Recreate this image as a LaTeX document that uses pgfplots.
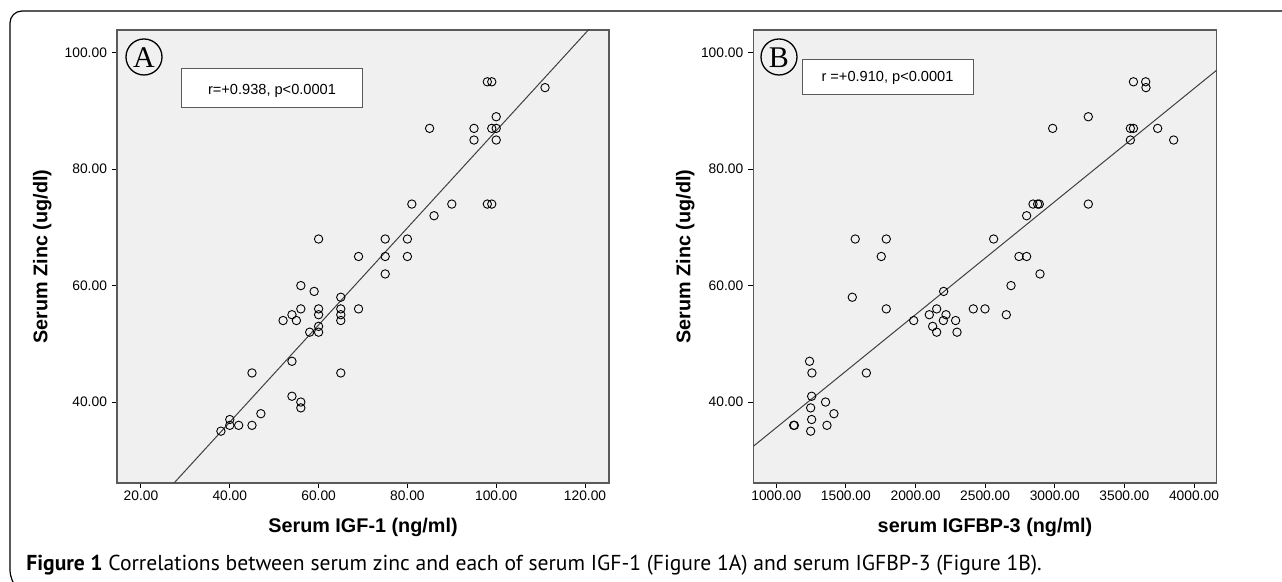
\documentclass[border=0pt]{standalone}
\usepackage{pgfplots}
\pgfplotsset{compat=1.18}
\usepackage{fontspec}
\setmainfont{Liberation Sans}
\newfontfamily\letterfont{Liberation Serif}
\newfontfamily\capfont{PT Sans}

\definecolor{plotbg}{HTML}{F0F0F0}
\definecolor{frameclr}{HTML}{5A5A5A}
\definecolor{fitclr}{HTML}{404040}

\pgfplotsset{
  zincstyle/.style={
    scale only axis,
    anchor=south west,
    height=226.5pt,
    ymin=26.1, ymax=103.9,
    ytick={40,60,80,100},
    axis background/.style={fill=plotbg},
    axis line style={frameclr, line width=0.7pt},
    tick style={black, line width=0.5pt},
    xtick pos=bottom, ytick pos=left,
    tick align=outside,
    major tick length=2.5pt,
    /pgf/number format/assume math mode=true,
    /pgf/number format/fixed,
    /pgf/number format/fixed zerofill,
    /pgf/number format/precision=2,
    /pgf/number format/1000 sep={},
    tick label style={font=\fontsize{6.9}{8}\selectfont},
    xticklabel style={yshift=2pt},
    yticklabel style={xshift=1pt},
    label style={font=\bfseries\fontsize{9.9}{11}\selectfont},
    ylabel={Serum Zinc (ug/dl)},
    mark size=2.1pt,
  },
}

\begin{document}
\begin{tikzpicture}[x=0.5pt, y=0.5pt]
\useasboundingbox (0,0) rectangle (1282,582);

% outer figure frame
\draw[black, line width=0.6pt, rounded corners=6pt]
  (1290,571) -- (10,571) -- (10,0) -- (16,-6);

% panel A
\begin{axis}[zincstyle,
  at={(58.5pt,49.5pt)},
  width=246pt,
  xmin=14.6, xmax=125.4,
  xtick={20,40,60,80,100,120},
  xlabel={Serum IGF-1 (ng/ml)},
  xlabel style={at={(axis description cs:0.5,-0.097)}, anchor=center},
  ylabel style={at={(axis description cs:-0.152,0.5)}, anchor=center},
]
\addplot[fitclr, line width=0.5pt] coordinates {(20,19.88) (125.4,107.78)};
\addplot[only marks, mark=o, mark options={black, line width=0.45pt}] coordinates {
 (98,95) (99,95) (111,94) (100,89) (85,87) (95,87) (99,87) (100,87)
 (95,85) (100,85) (81,74) (86,72) (90,74) (98,74) (99,74)
 (60,68) (75,68) (80,68) (69,65) (75,65) (80,65) (75,62)
 (56,60) (59,59) (65,58) (56,56) (60,56) (65,56) (69,56)
 (54,55) (60,55) (65,55) (52,54) (55,54) (65,54) (60,53)
 (58,52) (60,52) (54,47) (45,45) (65,45) (54,41) (56,40) (56,39)
 (40,37) (40,36) (42,36) (45,36) (47,38) (38,35)
};
\end{axis}

% panel B
\begin{axis}[zincstyle,
  at={(376.65pt,49.5pt)},
  width=231.7pt,
  xmin=835, xmax=4163,
  xtick={1000,1500,2000,2500,3000,3500,4000},
  xlabel={serum IGFBP-3 (ng/ml)},
  xlabel style={at={(axis description cs:0.5,-0.097)}, anchor=center},
  ylabel style={at={(axis description cs:-0.147,0.5)}, anchor=center},
]
\addplot[fitclr, line width=0.5pt] coordinates {(835,32.4) (4163,97.0)};
\addplot[only marks, mark=o, mark options={black, line width=0.45pt}] coordinates {
 (3565,95) (3653,95) (3655,94) (3241,89) (2985,87) (3543,87) (3565,87)
 (3739,87) (3543,85) (3854,85) (3241,74) (2844,74) (2877,74) (2889,74)
 (2798,72) (1567,68) (1790,68) (2561,68) (1754,65) (2743,65) (2798,65)
 (2894,62) (2686,60) (2202,59) (1546,58) (1790,56) (2152,56) (2415,56)
 (2499,56) (2099,55) (2219,55) (2652,55) (1987,54) (2200,54) (2288,54)
 (2123,53) (2152,52) (2298,52) (1239,47) (1256,45) (1647,45) (1254,41)
 (1354,40) (1247,39) (1414,38) (1254,37) (1125,36) (1130,36) (1364,36)
 (1247,35)
};
\end{axis}

% panel letters
\draw[black, line width=0.65pt] (144,525) circle (9pt);
\node[font=\letterfont\fontsize{15}{15}\selectfont] at (144,524) {A};
\draw[black, line width=0.65pt] (779,525) circle (9pt);
\node[font=\letterfont\fontsize{15}{15}\selectfont] at (779,524) {B};

% statistics boxes
\draw[frameclr, fill=white, line width=0.5pt] (181,513) rectangle (362,474);
\node[font=\fontsize{7.3}{9}\selectfont] at (272,491) {r=+0.938, p<0.0001};
\draw[frameclr, fill=white, line width=0.5pt] (802,522) rectangle (973,487);
\node[font=\fontsize{7.3}{9}\selectfont] at (887.5,504) {r =+0.910, p<0.0001};

% caption
\node[anchor=base west, inner sep=0pt, font=\capfont\fontsize{10.8}{12}\selectfont]
  at (26,11.3) {\textbf{Figure 1} Correlations between serum zinc and each of serum IGF-1 (Figure 1A) and serum IGFBP-3 (Figure 1B).};
\end{tikzpicture}
\end{document}
